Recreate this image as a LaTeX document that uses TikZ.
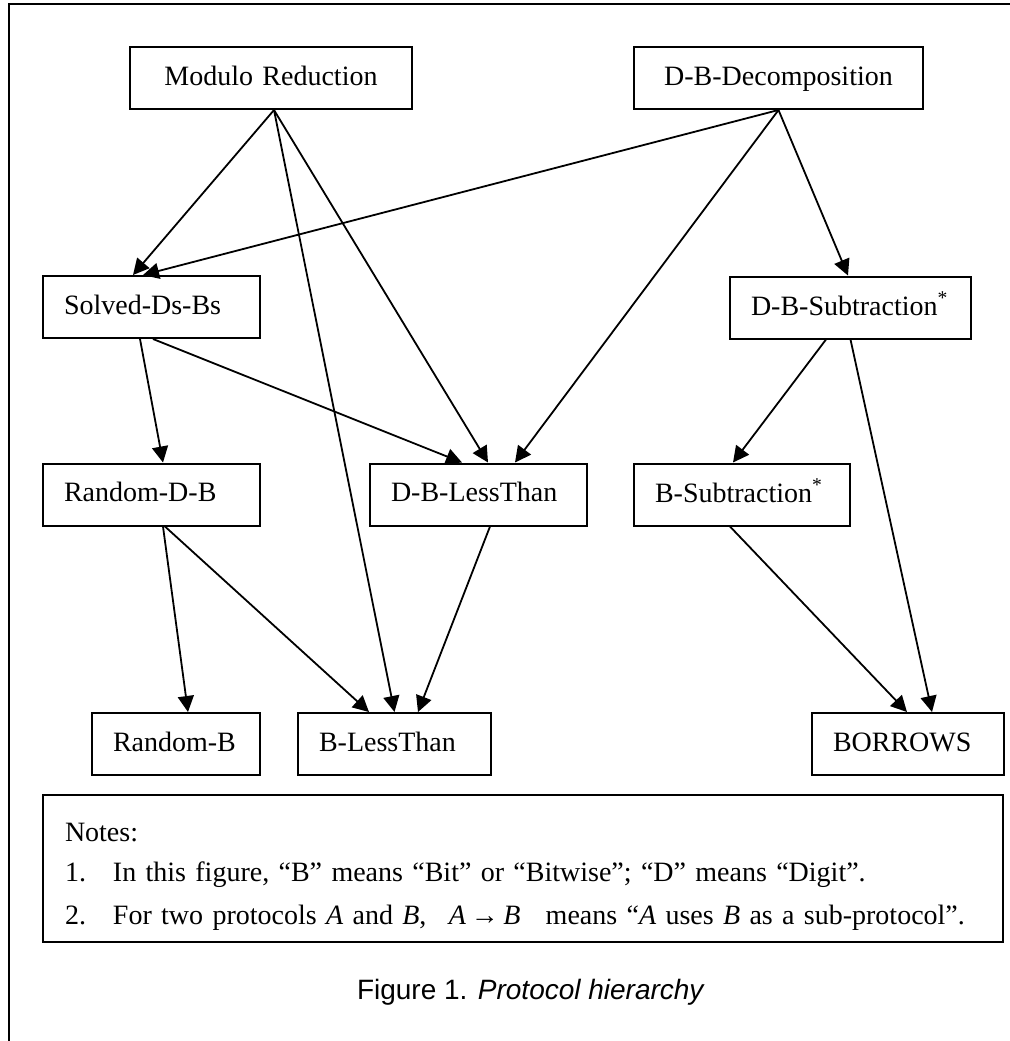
\documentclass[tikz,border=0pt]{standalone}
\usepackage{fontspec}
\setmainfont{Liberation Serif}
\newfontfamily\capfont{Liberation Sans}
\usetikzlibrary{arrows.meta}

\begin{document}
\begin{tikzpicture}[-{Triangle[length=8pt,width=8pt]},line width=0.9pt,x=0.5pt,y=-0.5pt,
   box/.style={draw,line width=1pt,minimum height=31pt,inner xsep=10.5pt,align=left,font=\fontsize{14}{17}\selectfont,execute at begin node={\rule[-4pt]{0pt}{15pt}}}]
   \useasboundingbox (0,0) rectangle (1010,1041);
   \draw[-,line width=1.4pt] (9,1041) -- (9,4) -- (1010,4);
   \node[box,align=center,text width=120pt] (mr) at (271,78) {Modulo Reduction};
   \node[box,align=center,text width=123.5pt] (dbd) at (778.5,78) {D-B-Decomposition};
   \node[box,text width=87.5pt] (sds) at (151.5,307) {Solved-Ds-Bs};
   \node[box,text width=99.5pt] (dbs) at (850.5,307.5) {D-B-Subtraction\textsuperscript{*}};
   \node[box,text width=87.5pt] (rdb) at (151.5,494.5) {Random-D-B};
   \node[box,text width=87.5pt] (dblt) at (478.5,494.5) {D-B-LessThan};
   \node[box,text width=87pt] (bs) at (742,494.5) {B-Subtraction\textsuperscript{*}};
   \node[box,text width=63pt] (rb) at (176,744) {Random-B};
   \node[box,text width=75.5pt] (blt) at (394.5,744) {B-LessThan};
   \node[box,text width=75pt] (bor) at (908,744) {BORROWS};
   \node[box,text width=458pt,inner xsep=11pt,minimum height=73.5pt,font=\fontsize{14}{19}\selectfont,execute at begin node={}] (notes) at (523,868.5)
      {\rule{0pt}{17pt}Notes:\\[1pt]
       \makebox[24pt][l]{1.}In this figure, “B” means “Bit” or “Bitwise”; “D” means “Digit”.\\[2.5pt]
       \makebox[24pt][l]{2.}For two protocols \textit{A} and \textit{B},\hspace{0.8em}\textit{A}\,→\,\textit{B}\hspace{0.9em}means “\textit{A} uses \textit{B} as a sub-protocol”.};
   \node[font=\capfont\fontsize{14}{17}\selectfont] (cap) at (531,992) {Figure 1. \textit{Protocol hierarchy}};
   \path ([xshift=1.5pt]mr.south) edge ([xshift=-9.25pt]sds.north);
   \path ([xshift=1.5pt]mr.south) edge ([xshift=4.75pt]dblt.north);
   \path ([xshift=1.5pt]mr.south) edge (blt.north);
   \path (dbd.south) edge ([xshift=-4.25pt]sds.north);
   \path (dbd.south) edge ([xshift=18.25pt]dblt.north);
   \path (dbd.south) edge ([xshift=-1.25pt]dbs.north);
   \path ([xshift=-5.75pt]sds.south) edge ([xshift=5.75pt]rdb.north);
   \path ([xshift=0.75pt]sds.south) edge ([xshift=-8.25pt]dblt.north);
   \path ([xshift=-12.25pt]dbs.south) edge ([xshift=-4.5pt]bs.north);
   \path (dbs.south) edge ([xshift=12pt]bor.north);
   \path ([xshift=5.75pt]rdb.south) edge ([xshift=6pt]rb.north);
   \path ([xshift=6.75pt]rdb.south) edge ([xshift=-12.75pt]blt.north);
   \path ([xshift=5.75pt]dblt.south) edge ([xshift=11.75pt]blt.north);
   \path ([xshift=-6pt]bs.south) edge ([xshift=-0.5pt]bor.north);
\end{tikzpicture}
\end{document}
